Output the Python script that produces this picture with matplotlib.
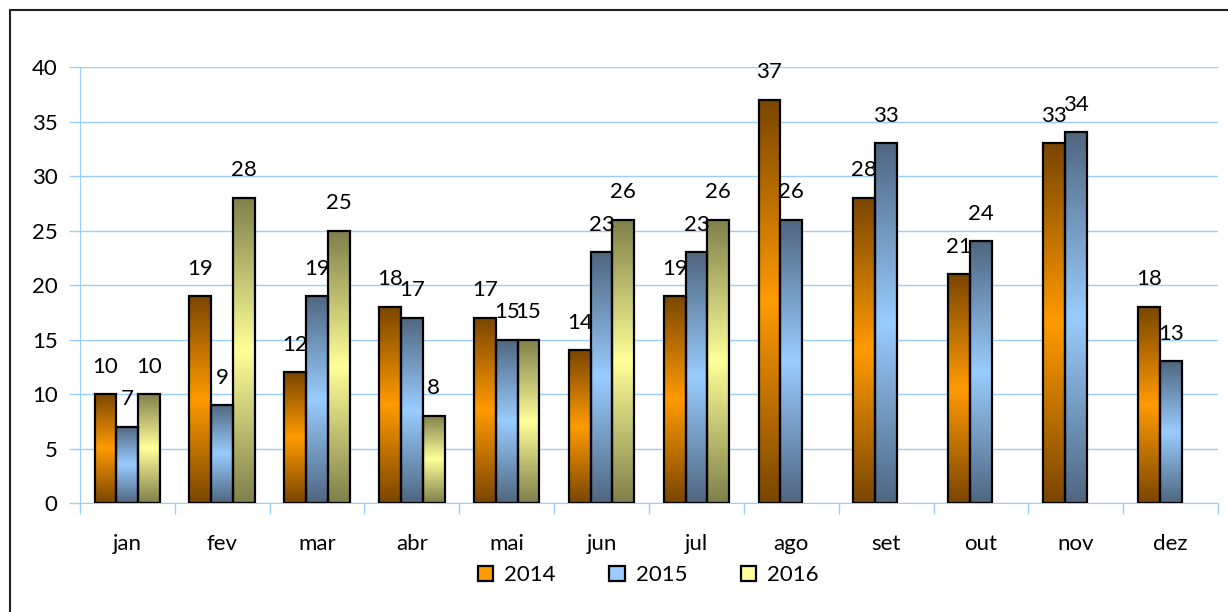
import matplotlib

matplotlib.use("Agg")
import matplotlib.pyplot as plt
import numpy as np
from matplotlib.colors import LinearSegmentedColormap
from matplotlib.patches import Rectangle

months = ["jan", "fev", "mar", "abr", "mai", "jun", "jul", "ago", "set", "out", "nov", "dez"]
series_names = ["2014", "2015", "2016"]
v2014 = [10, 19, 12, 18, 17, 14, 19, 37, 28, 21, 33, 18]
v2015 = [7, 9, 19, 17, 15, 23, 23, 26, 33, 24, 34, 13]
v2016 = [10, 28, 25, 8, 15, 26, 26, None, None, None, None, None]
y_ticks = [0, 5, 10, 15, 20, 25, 30, 35, 40]

# (edge colour, centre colour) for the vertical gradient on each bar
palette = [("#7a4600", "#ff9a00"), ("#4f6680", "#99ccff"), ("#7f7f4a", "#ffff99")]
grid_col = "#99ccff"

plt.rcParams["font.family"] = ["Lato", "DejaVu Sans"]
fs = 16

fig = plt.figure(figsize=(12.28, 6.12), dpi=100)
ax = fig.add_axes([0.0651, 0.178, 0.9268, 0.7125])

w = 0.23
grad = np.linspace(0, 1, 256).reshape(-1, 1)
for k, (vals, (dark, light)) in enumerate(zip([v2014, v2015, v2016], palette)):
    cmap = LinearSegmentedColormap.from_list(f"g{k}", [dark, light, dark])
    for i, v in enumerate(vals):
        if v is None:
            continue
        x0 = i + 0.5 + (k - 1) * w - w / 2
        ax.imshow(grad, extent=[x0, x0 + w, 0, v], aspect="auto", cmap=cmap,
                  origin="lower", zorder=2, interpolation="bicubic")
        ax.add_patch(Rectangle((x0, 0), w, v, fill=False, edgecolor="black",
                               linewidth=1.6, zorder=3))
        ax.annotate(str(v), (x0 + w / 2, v), xytext=(0, 12.5), textcoords="offset points",
                    ha="center", va="bottom", fontsize=fs, zorder=4)

ax.set_xlim(0, len(months))
ax.set_ylim(0, 40)
ax.set_yticks(y_ticks)
ax.set_yticklabels([str(t) for t in y_ticks], fontsize=fs)
ax.set_xticks(np.arange(len(months) + 1))
ax.set_xticklabels([])
ax.set_xticks(np.arange(len(months)) + 0.5, minor=True)
ax.set_xticklabels(months, minor=True, fontsize=fs)
ax.tick_params(axis="x", which="minor", length=0, pad=22)
ax.tick_params(axis="x", which="major", length=8, color=grid_col, width=1)
ax.tick_params(axis="y", length=8, color=grid_col, width=1, pad=8)
ax.grid(axis="y", color=grid_col, linewidth=1, zorder=0)
ax.set_axisbelow(True)
for side in ["top", "right"]:
    ax.spines[side].set_visible(False)
for side in ["left", "bottom"]:
    ax.spines[side].set_color(grid_col)
    ax.spines[side].set_zorder(1)

handles = [Rectangle((0, 0), 1, 1, facecolor=light, edgecolor="black", linewidth=1.6)
           for _, light in palette]
fig.legend(handles, series_names, loc="center", bbox_to_anchor=(0.528, 0.06), ncol=3,
           frameon=False, fontsize=fs, handlelength=0.7, handleheight=0.7,
           handletextpad=0.5, columnspacing=2.4)

# outer chart frame
fig.patches.append(Rectangle((10 / 1228, -0.1), 1.2, 1 - 10 / 612 + 0.1, transform=fig.transFigure,
                             fill=False, edgecolor="#222222", linewidth=1.5))

fig.savefig("out.png", dpi=100)
plt.close(fig)
